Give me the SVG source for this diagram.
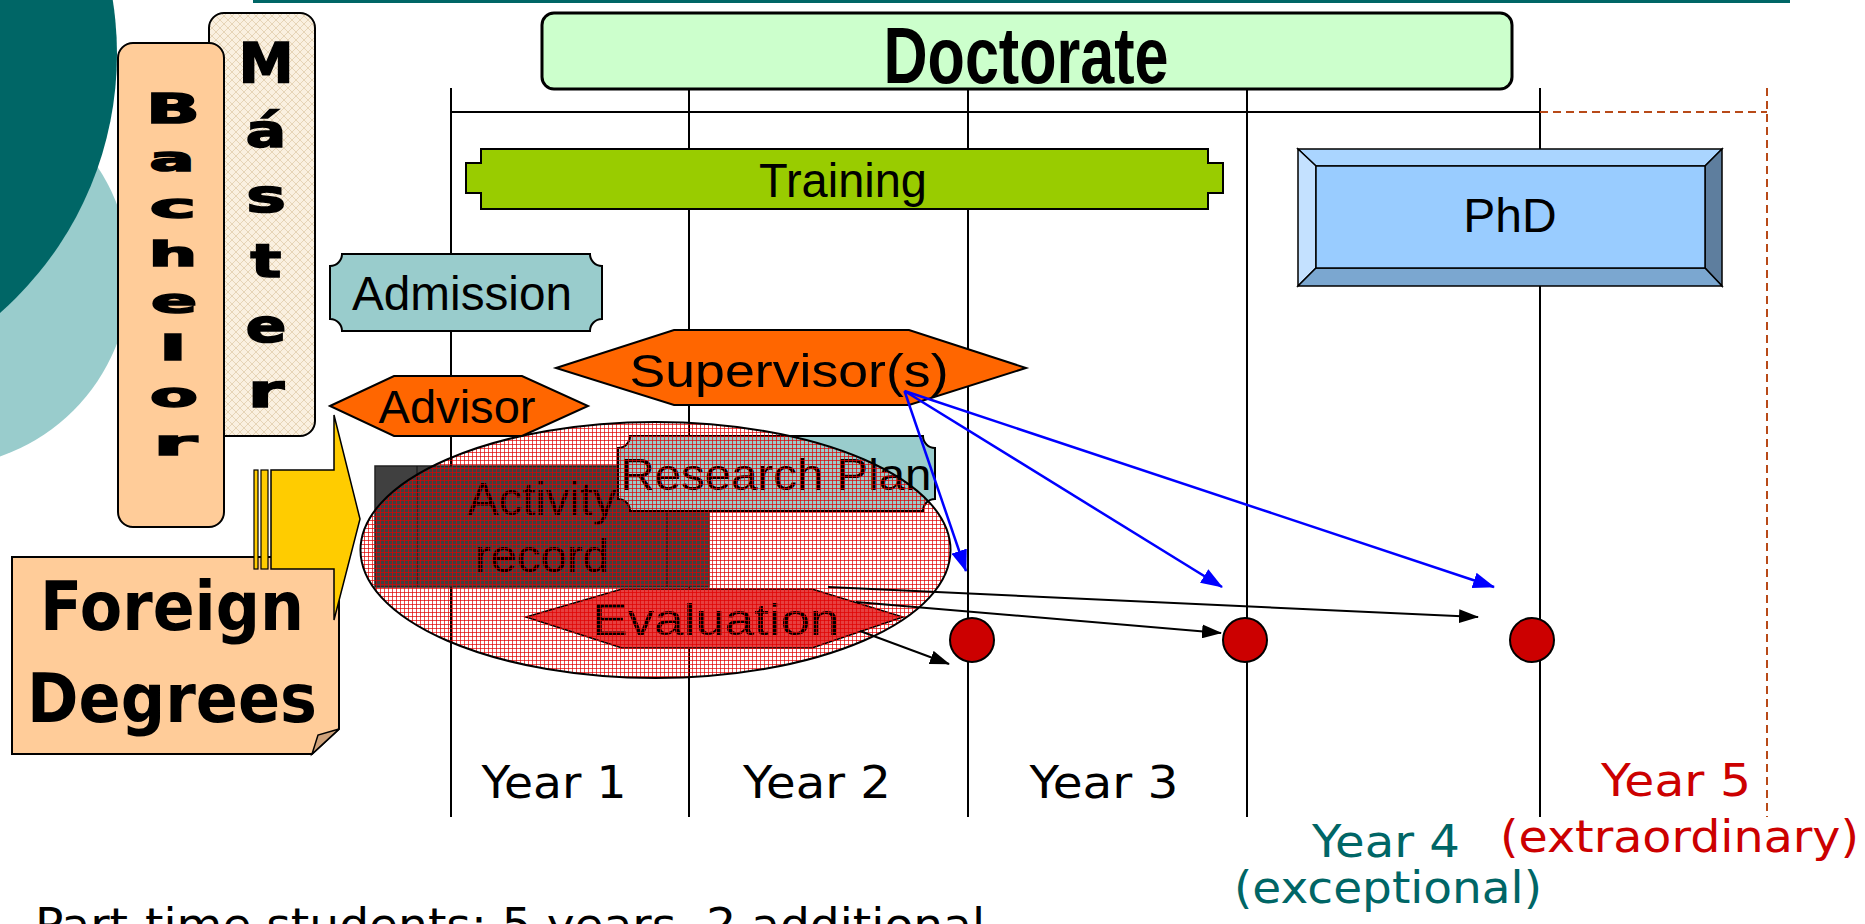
<svg xmlns="http://www.w3.org/2000/svg" width="1865" height="924" viewBox="0 0 1865 924">
<defs>
<pattern id="hatch" width="4" height="4" patternUnits="userSpaceOnUse"><path d="M0 0.5H4M0.5 0V4" stroke="#E00000" stroke-opacity="0.7" stroke-width="1" fill="none"/></pattern>
<pattern id="weave" width="8" height="8" patternUnits="userSpaceOnUse"><rect width="8" height="8" fill="#FAF0E0"/><path d="M0 0L8 8M8 0L0 8" stroke="#E6D4B6" stroke-width="1"/></pattern>
<marker id="ahK" markerUnits="userSpaceOnUse" markerWidth="20" markerHeight="14" refX="19" refY="7" orient="auto"><path d="M0 0L20 7L0 14Z" fill="#000"/></marker>
<marker id="ahU" markerUnits="userSpaceOnUse" markerWidth="22" markerHeight="16" refX="21" refY="8" orient="auto"><path d="M0 0L22 8L0 16Z" fill="#0000FF"/></marker>
</defs>
<style>
.ln{stroke:#000;stroke-width:2;fill:none}
.bx{stroke:#000;stroke-width:2}
.t{font-family:"Liberation Sans",Arial,sans-serif;text-anchor:middle;fill:#000}
.y{font-family:"DejaVu Sans",sans-serif;font-size:45px}
.v{font-family:"DejaVu Sans",sans-serif;font-weight:bold;text-anchor:middle;fill:#000}
.vv{font-family:"DejaVu Sans",sans-serif;font-weight:bold;text-anchor:middle;fill:#000;stroke:#000;stroke-width:1.6;stroke-linejoin:miter}
.k{stroke:#000;stroke-width:2;fill:none;marker-end:url(#ahK)}
.u{stroke:#0000FF;stroke-width:2.5;fill:none;marker-end:url(#ahU)}
.hex{fill:#FF6600;stroke:#000;stroke-width:2}
.ms{fill:#CC0000;stroke:#000;stroke-width:2}
</style>

<g id="background">
<circle cx="-63" cy="274" r="193" fill="#99CCCC"/>
<circle cx="-228" cy="54" r="345" fill="#006666"/>
<rect x="253" y="0" width="1537" height="3" fill="#006666"/>
</g>

<g id="master">
<rect x="209" y="13" width="106" height="423" rx="15" fill="url(#weave)" class="bx"/>
<text class="vv" font-size="55" transform="translate(266,82) scale(1.0,1)">M</text>
<text class="vv" font-size="46" transform="translate(266,147) scale(1.3,1)">á</text>
<text class="vv" font-size="46" transform="translate(266,212) scale(1.45,1)">s</text>
<text class="vv" font-size="46" transform="translate(266,277) scale(1.4,1)">t</text>
<text class="vv" font-size="46" transform="translate(266,342) scale(1.3,1)">e</text>
<text class="vv" font-size="46" transform="translate(266,407) scale(1.6,1)">r</text>
</g>

<g id="bachelor">
<rect x="118" y="43" width="106" height="484" rx="15" fill="#FFCC99" class="bx"/>
<text class="vv" font-size="40" transform="translate(173,123) scale(1.77,1)">B</text>
<text class="vv" font-size="34" transform="translate(172,171) scale(1.96,1)">a</text>
<text class="vv" font-size="34" transform="translate(173,218) scale(2.3,1)">c</text>
<text class="vv" font-size="34" transform="translate(173,266) scale(2.0,1)">h</text>
<text class="vv" font-size="34" transform="translate(174,313) scale(2.0,1)">e</text>
<text class="vv" font-size="34" transform="translate(173,360) scale(2.3,1)">l</text>
<text class="vv" font-size="34" transform="translate(174,407) scale(2.05,1)">o</text>
<text class="vv" font-size="34" transform="translate(175,455) scale(2.6,1)">r</text>
</g>

<g id="timeline">
<path class="ln" d="M451 112H1540M451 88V817M689 88V817M968 88V817M1247 88V817M1540 88V817"/>
<path d="M1540 112H1767M1767 88V817" stroke="#B84A18" stroke-width="2" stroke-dasharray="8 5" fill="none"/>
</g>

<g id="doctorate">
<rect x="542" y="13" width="970" height="76" rx="12" fill="#CCFFCC" stroke="#000" stroke-width="3"/>
<text class="t" x="1026" y="83" font-size="80" font-weight="bold" textLength="285" lengthAdjust="spacingAndGlyphs">Doctorate</text>
</g>

<g id="training">
<path class="bx" fill="#99CC00" stroke-width="1.5" d="M481 149H1208V163H1223V193H1208V209H481V193H466V163H481Z"/>
<text class="t" x="843" y="197" font-size="48" textLength="168" lengthAdjust="spacingAndGlyphs">Training</text>
</g>

<g id="phd">
<rect x="1298" y="149" width="424" height="137" fill="#99CCFF"/>
<polygon points="1298,149 1722,149 1705,166 1316,166" fill="#AAD5FF" stroke="#000" stroke-width="1.5"/>
<polygon points="1298,149 1316,166 1316,268 1298,286" fill="#C4E1FF" stroke="#000" stroke-width="1.5"/>
<polygon points="1722,149 1722,286 1705,268 1705,166" fill="#5E7E9E" stroke="#000" stroke-width="1.5"/>
<polygon points="1298,286 1316,268 1705,268 1722,286" fill="#7BA7D0" stroke="#000" stroke-width="1.5"/>
<rect x="1316" y="166" width="389" height="102" fill="#99CCFF" stroke="#000" stroke-width="1.5"/>
<text class="t" x="1510" y="232" font-size="48">PhD</text>
</g>

<g id="admission">
<path class="bx" fill="#99CCCC" d="M342 254H590A12 12 0 0 0 602 266V319A12 12 0 0 0 590 331H342A12 12 0 0 0 330 319V266A12 12 0 0 0 342 254Z"/>
<text class="t" x="462" y="310" font-size="48" textLength="220" lengthAdjust="spacingAndGlyphs">Admission</text>
</g>

<g id="supervisors">
<polygon class="hex" points="556,368 674,330 909,330 1026,368 909,405 674,405"/>
<text class="t" x="789" y="387" font-size="47" textLength="319" lengthAdjust="spacingAndGlyphs">Supervisor(s)</text>
</g>

<g id="activity-record">
<rect x="375" y="466" width="334" height="121" fill="#404040" stroke="#222" stroke-width="1.5"/>
<path d="M417 466V587M667 466V587" stroke="#111" stroke-width="1"/>
</g>

<g id="research-plan">
<path class="bx" fill="#99CCCC" d="M630 436H923A12 12 0 0 0 935 448V499A12 12 0 0 0 923 511H630A12 12 0 0 0 618 499V448A12 12 0 0 0 630 436Z"/>
<text class="t" x="776" y="490" font-size="45" textLength="311" lengthAdjust="spacingAndGlyphs">Research Plan</text>
</g>

<g id="activity-text">
<text class="t" x="542" y="515" font-size="46" textLength="149" lengthAdjust="spacingAndGlyphs">Activity</text>
<text class="t" x="542" y="572" font-size="46" textLength="134" lengthAdjust="spacingAndGlyphs">record</text>
</g>

<g id="evaluation">
<polygon points="526,617 622,589 812,589 903,617 812,648 622,648" fill="#E64040" stroke="#000" stroke-width="1.5"/>
<text class="t" x="716" y="635" font-size="45" textLength="247" lengthAdjust="spacingAndGlyphs">Evaluation</text>
</g>

<g id="followup-ellipse">
<ellipse cx="655.5" cy="550" rx="295" ry="128" fill="url(#hatch)" stroke="#000" stroke-width="2"/>
</g>

<g id="advisor">
<polygon class="hex" points="330,406 394,376 522,376 588,406 522,436 394,436"/>
<text class="t" x="457" y="423" font-size="46" textLength="157" lengthAdjust="spacingAndGlyphs">Advisor</text>
</g>

<g id="foreign-degrees">
<path class="bx" fill="#FFCC99" stroke-width="2.5" d="M12 557H339V729L312 754H12Z"/>
<path d="M339 729L318 735L312 754Z" fill="#CFA27A" stroke="#000" stroke-width="1.5"/>
<text class="v" x="172" y="630" font-size="68" textLength="264" lengthAdjust="spacingAndGlyphs">Foreign</text>
<text class="v" x="172" y="722" font-size="68" textLength="290" lengthAdjust="spacingAndGlyphs">Degrees</text>
</g>

<g id="entry-arrow">
<rect x="254" y="470" width="4" height="99" fill="#FFCC00" stroke="#000" stroke-width="1.2"/>
<rect x="261" y="470" width="7" height="99" fill="#FFCC00" stroke="#000" stroke-width="1.2"/>
<polygon points="271,470 334,470 334,415 360,519 334,620 334,569 271,569" fill="#FFCC00" stroke="#000" stroke-width="1.5"/>
</g>

<g id="milestones">
<circle class="ms" cx="972" cy="640" r="22"/>
<circle class="ms" cx="1245" cy="640" r="22"/>
<circle class="ms" cx="1532" cy="640" r="22"/>
</g>

<g id="connectors">
<path class="k" d="M860 631L949 664"/>
<path class="k" d="M856 602L1221 633"/>
<path class="k" d="M828 587L1478 617"/>
<path class="u" d="M904.5 391L966 571"/>
<path class="u" d="M904.5 391L1222 587"/>
<path class="u" d="M904.5 391L1494 587"/>
</g>

<g id="year-labels">
<text class="y" x="554" y="798" text-anchor="middle" textLength="145" lengthAdjust="spacingAndGlyphs">Year 1</text>
<text class="y" x="817" y="798" text-anchor="middle" textLength="148" lengthAdjust="spacingAndGlyphs">Year 2</text>
<text class="y" x="1104" y="798" text-anchor="middle" textLength="149" lengthAdjust="spacingAndGlyphs">Year 3</text>
<text class="y" x="1601" y="796" fill="#CC0000" textLength="150" lengthAdjust="spacingAndGlyphs">Year 5</text>
<text class="y" x="1500" y="852" fill="#CC0000" textLength="359" lengthAdjust="spacingAndGlyphs">(extraordinary)</text>
<text class="y" x="1312" y="857" fill="#006666" textLength="148" lengthAdjust="spacingAndGlyphs">Year 4</text>
<text class="y" x="1234" y="903" fill="#006666" textLength="308" lengthAdjust="spacingAndGlyphs">(exceptional)</text>
</g>

<g id="note">
<text class="y" x="35" y="940" textLength="950" lengthAdjust="spacingAndGlyphs">Part-time students: 5 years, 2 additional</text>
</g>
</svg>
